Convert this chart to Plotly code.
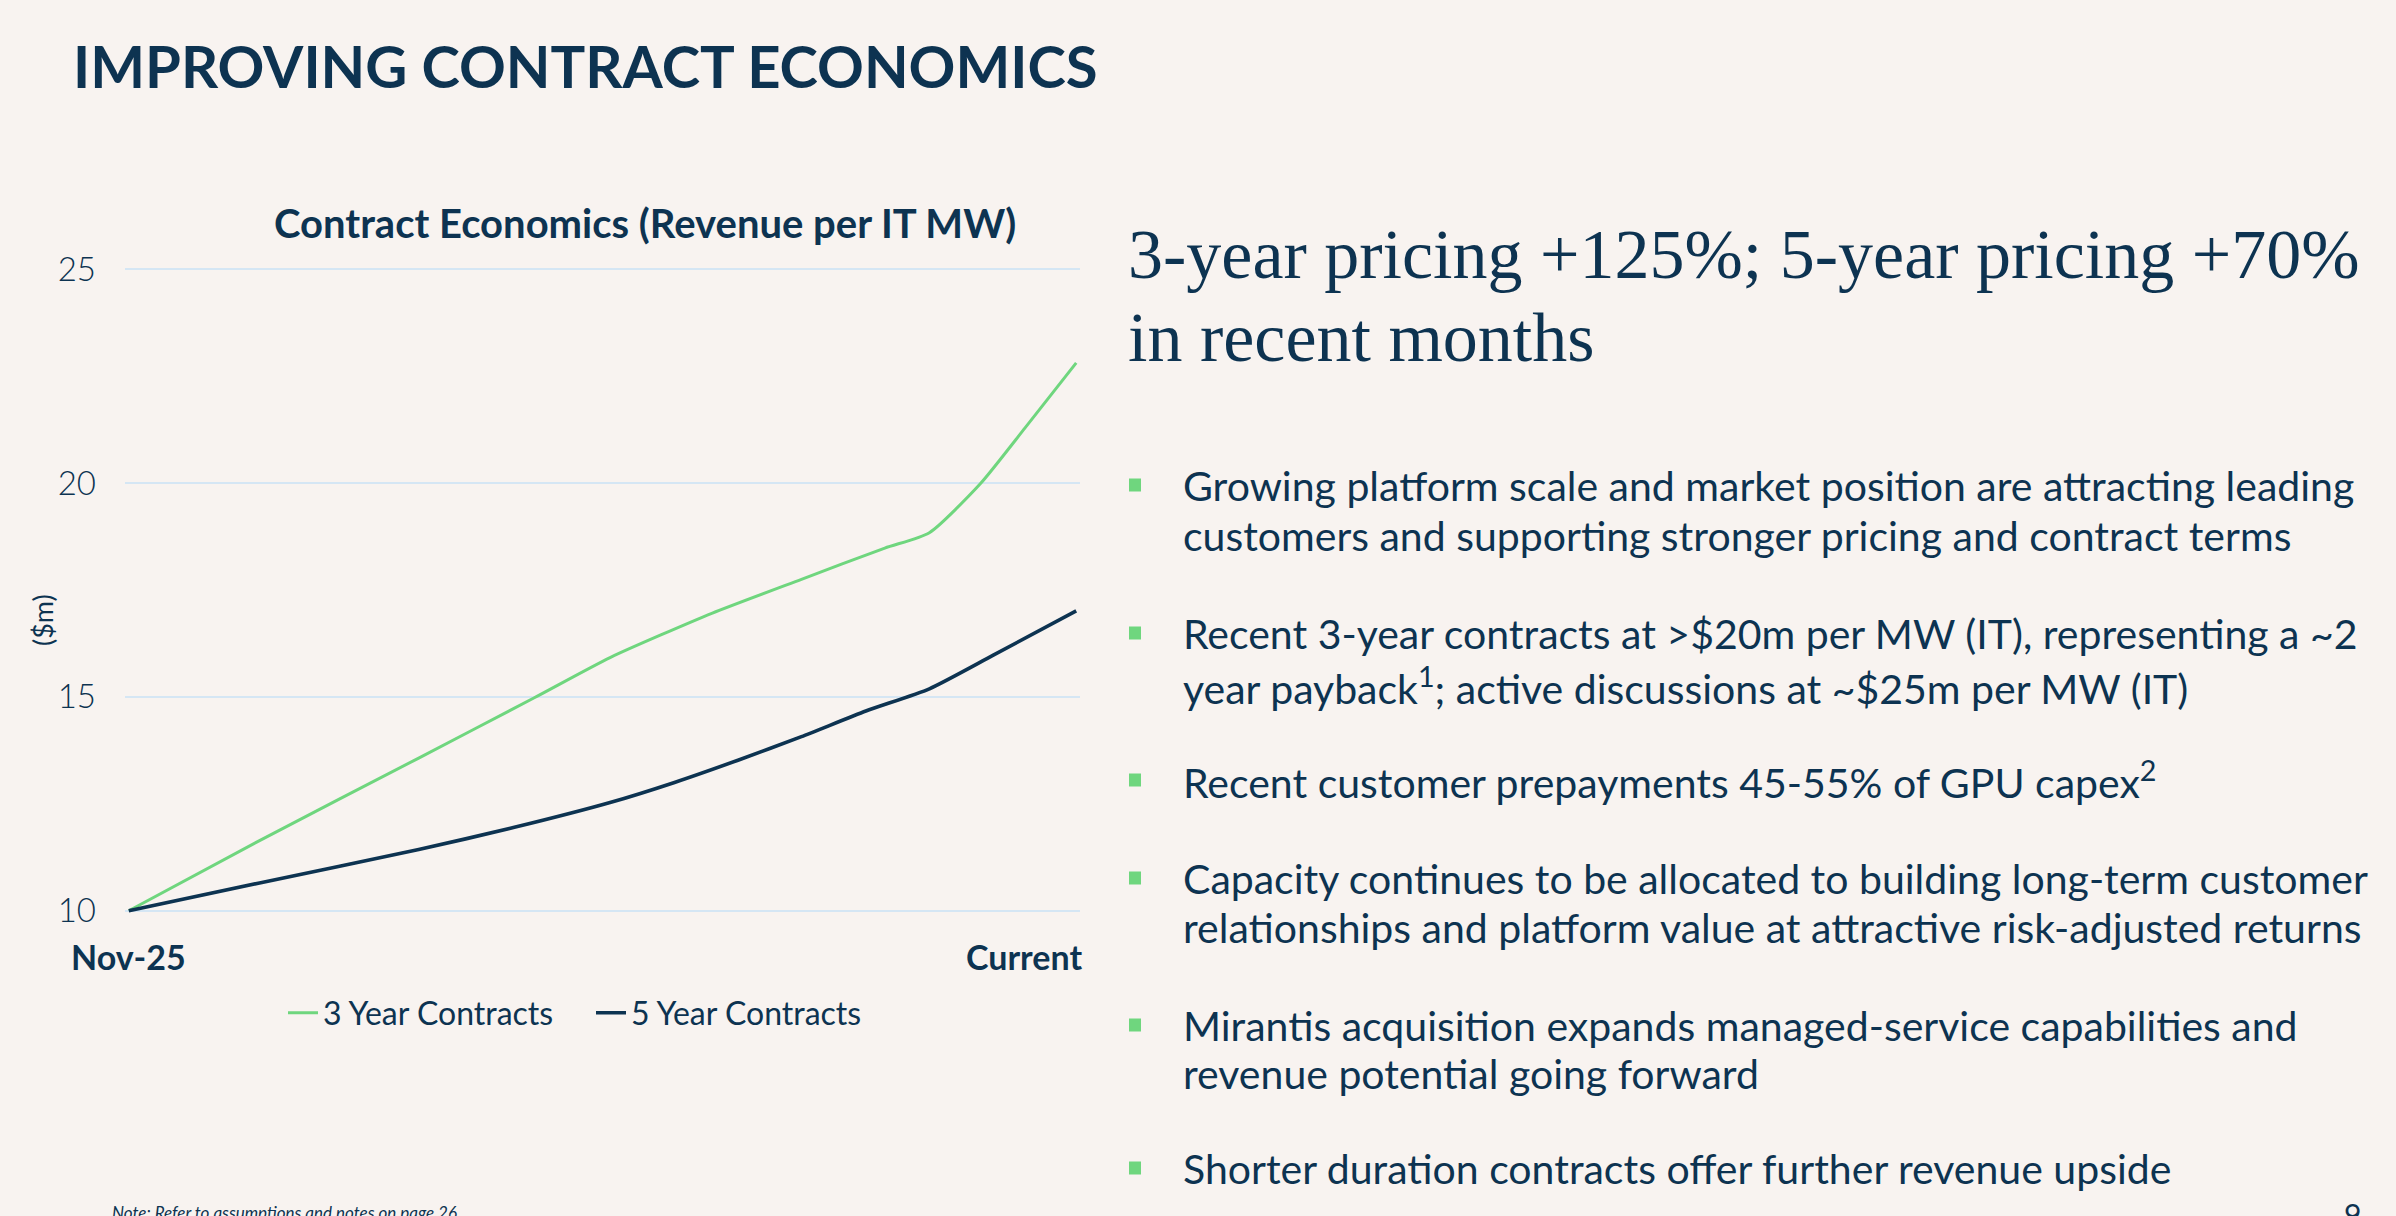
import plotly.graph_objects as go

# ---------------- data ----------------
period_labels = ["Nov-25", "Current"]
x3_pos = [0.0, 0.138, 0.306, 0.428, 0.508, 0.616, 0.71, 0.798, 0.845, 0.899, 0.946, 1.0]
y3_vals = [10.0, 11.64, 13.57, 14.98, 15.92, 16.96, 17.75, 18.48, 18.84, 19.99, 21.29, 22.81]
x5_pos = [0.0, 0.138, 0.306, 0.407, 0.508, 0.576, 0.643, 0.71, 0.778, 0.845, 0.912, 1.0]
y5_vals = [10.0, 10.65, 11.43, 11.95, 12.53, 13.0, 13.52, 14.07, 14.67, 15.19, 15.97, 17.01]
series_names = ["3 Year Contracts", "5 Year Contracts"]
y_ticks = [10, 15, 20, 25]

page_title = "IMPROVING CONTRACT ECONOMICS"
chart_title = "Contract Economics (Revenue per IT MW)"
y_title = "($m)"
headline = ["3-year pricing +125%; 5-year pricing +70%", "in recent months"]
bullets = [
    ["Growing platform scale and market position are attracting leading",
     "customers and supporting stronger pricing and contract terms"],
    ["Recent 3-year contracts at >$20m per MW (IT), representing a ~2",
     "year payback<sup>1</sup>; active discussions at ~$25m per MW (IT)"],
    ["Recent customer prepayments 45-55% of GPU capex<sup>2</sup>"],
    ["Capacity continues to be allocated to building long-term customer",
     "relationships and platform value at attractive risk-adjusted returns"],
    ["Mirantis acquisition expands managed-service capabilities and",
     "revenue potential going forward"],
    ["Shorter duration contracts offer further revenue upside"],
]
note_text = "Note: Refer to assumptions and notes on page 26"
page_no = "9"

# ---------------- styling ----------------
W_FIG, H_FIG = 2396, 1216
L, R, T, B = 125, 1316, 265, 301
PW = W_FIG - L - R
PH = H_FIG - T - B
BG = "#f8f3f0"
NAVY = "#0d3351"
GREEN = "#6fd67e"
GRID = "#d5e6f4"
SANS = "Lato, 'Noto Sans', sans-serif"
SERIF = "'Liberation Serif', 'DejaVu Serif', serif"


def px(xp):
    return (xp - L) / PW


def py(yp):
    return (H_FIG - B - yp) / PH


fig = go.Figure()
fig.add_trace(go.Scatter(x=x3_pos, y=y3_vals, name=series_names[0], mode="lines",
                         line=dict(color=GREEN, width=3.0, shape="spline", smoothing=0.6)))
fig.add_trace(go.Scatter(x=x5_pos, y=y5_vals, name=series_names[1], mode="lines",
                         line=dict(color=NAVY, width=3.6, shape="spline", smoothing=0.6)))

ann = []
# page title
ann.append(dict(text=f"<b>{page_title}</b>", x=px(71), y=py(65), xanchor="left", yanchor="middle",
                font=dict(family=SANS, size=58, color=NAVY)))
# chart title
ann.append(dict(text=f"<b>{chart_title}</b>", x=px(645), y=py(223), xanchor="center", yanchor="middle",
                font=dict(family=SANS, size=40, color=NAVY)))
# y axis title
ann.append(dict(text=y_title, x=px(42), y=py(620), xanchor="center", yanchor="middle", textangle=-90,
                font=dict(family=SANS, size=27, color=NAVY)))
# x labels
ann.append(dict(text=f"<b>{period_labels[0]}</b>", x=0, xref="x", y=py(956), xanchor="center",
                yanchor="middle", font=dict(family=SANS, size=34, color=NAVY)))
ann.append(dict(text=f"<b>{period_labels[1]}</b>", x=px(1084), y=py(956), xanchor="right",
                yanchor="middle", font=dict(family=SANS, size=34, color=NAVY)))
# headline
for line, yc in zip(headline, [254, 337]):
    ann.append(dict(text=line, x=px(1126), y=py(yc), xanchor="left", yanchor="middle",
                    font=dict(family=SERIF, size=70, color=NAVY)))
# bullets
bullet_centers = [[485, 535], [633, 686], [780], [878, 927], [1025, 1073], [1168]]
shapes = []
for lines, centers in zip(bullets, bullet_centers):
    c0 = centers[0]
    shapes.append(dict(type="rect", xref="paper", yref="paper",
                       x0=px(1129), x1=px(1141), y0=py(c0 + 6.5), y1=py(c0 - 6.5),
                       fillcolor=GREEN, line=dict(width=0)))
    for line, yc in zip(lines, centers):
        ann.append(dict(text=line, x=px(1181), y=py(yc), xanchor="left", yanchor="middle",
                        font=dict(family=SANS, size=41, color=NAVY)))
# footnote and page number (partly cut at the page bottom, as in the slide)
ann.append(dict(text=f"<i>{note_text}</i>", x=px(110), y=py(1212), xanchor="left", yanchor="middle",
                font=dict(family=SANS, size=17, color=NAVY)))
ann.append(dict(text=page_no, x=px(2352), y=py(1214), xanchor="center", yanchor="middle",
                font=dict(family=SANS, size=30, color=NAVY)))

for a in ann:
    a.setdefault("xref", "paper")
    a["yref"] = "paper"
    a["showarrow"] = False

fig.update_layout(
    width=W_FIG, height=H_FIG,
    margin=dict(l=L, r=R, t=T, b=B, autoexpand=False),
    paper_bgcolor=BG, plot_bgcolor=BG,
    showlegend=True,
    legend=dict(orientation="h", x=px(283), y=py(1013), xanchor="left", yanchor="middle",
                font=dict(family=SANS, size=32, color=NAVY), bgcolor="rgba(0,0,0,0)",
                itemwidth=30, tracegroupgap=0, entrywidth=263, borderwidth=0),
    annotations=ann,
    shapes=shapes,
    xaxis=dict(range=[-0.004, 1.004], showgrid=False, zeroline=False, showline=False,
               showticklabels=False, fixedrange=True),
    yaxis=dict(range=[9.9, 25.1], tickvals=y_ticks, showgrid=True, gridcolor=GRID, gridwidth=2,
               zeroline=False, showline=False, ticks="", ticklabelstandoff=28,
               tickfont=dict(family=SANS, size=33, color=NAVY, weight=300), fixedrange=True),
)

fig.write_html("out.html", config={"displayModeBar": False},
               post_script="document.body.style.margin='0';document.body.style.overflow='hidden';")
